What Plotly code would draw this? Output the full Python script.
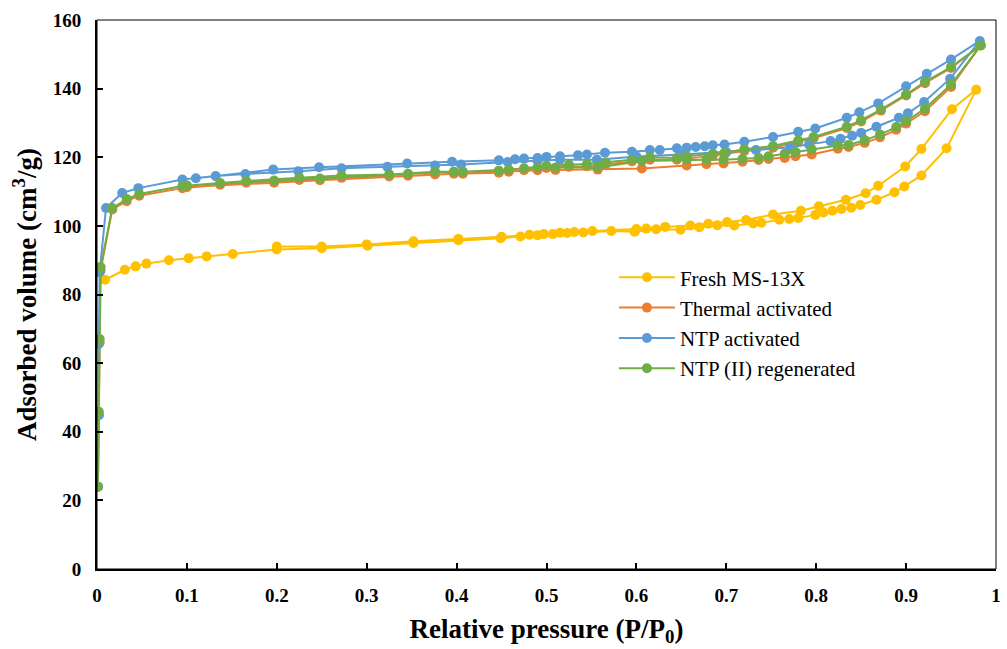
import plotly.graph_objects as go

# ---------------- data ----------------
fresh_p_ads = [0.009,0.031,0.043,0.055,0.080,0.102,0.122,0.151,0.200,0.250,0.301,0.352,0.402,0.449,0.471,0.490,0.507,0.523,0.541,0.572,0.598,0.622,0.649,0.670,0.690,0.709,0.730,0.739,0.759,0.770,0.780,0.799,0.808,0.818,0.828,0.839,0.849,0.867,0.887,0.898,0.917,0.945,0.978]
fresh_v_ads = [84.3,87.2,88.2,89.0,90.0,90.6,91.1,91.8,93.1,93.5,94.2,95.0,95.8,96.4,96.9,97.3,97.6,97.9,98.1,98.5,98.3,99.0,98.9,99.6,100.2,100.1,100.7,100.9,101.8,102.0,102.3,103.2,103.9,104.4,104.9,105.3,106.1,107.6,109.8,111.5,114.7,122.6,139.7]
fresh_p_des = [0.951,0.917,0.899,0.869,0.855,0.833,0.803,0.783,0.752,0.722,0.701,0.680,0.660,0.632,0.611,0.600,0.551,0.531,0.515,0.497,0.481,0.450,0.402,0.352,0.300,0.250,0.200]
fresh_v_des = [134.0,122.4,117.3,111.7,109.5,107.6,105.7,104.4,103.3,101.7,101.1,100.6,100.1,99.7,99.2,99.1,98.5,98.2,98.0,97.6,97.4,96.8,96.2,95.5,94.6,94.0,94.0]

thermal_p_ads = [0.001,0.002,0.003,0.004,0.017,0.033,0.047,0.095,0.137,0.166,0.225,0.272,0.325,0.376,0.407,0.458,0.490,0.510,0.557,0.606,0.656,0.678,0.697,0.718,0.736,0.747,0.765,0.777,0.795,0.824,0.836,0.854,0.871,0.889,0.900,0.921,0.950,0.983]
thermal_v_ads = [24.0,45.0,66.0,87.0,104.8,107.2,108.8,111.0,112.0,112.6,113.4,114.0,114.4,115.0,115.2,115.8,116.2,116.3,116.4,116.7,117.6,118.0,118.2,118.7,119.2,119.5,119.8,120.3,120.8,122.5,123.0,124.2,125.8,128.0,129.8,133.4,140.5,152.6]
thermal_p_des = [0.950,0.921,0.900,0.872,0.850,0.834,0.797,0.780,0.752,0.720,0.698,0.685,0.656,0.645,0.615,0.595,0.566,0.545,0.525,0.500,0.475,0.447,0.397,0.346,0.248,0.197,0.100]
thermal_v_des = [146.0,141.6,138.0,133.6,130.4,128.5,125.5,124.4,122.8,121.8,120.8,120.4,119.6,119.3,119.3,118.8,117.9,117.4,117.2,116.9,116.2,115.5,115.2,114.6,113.3,112.6,111.3]

ntp_p_ads = [0.001,0.002,0.002,0.003,0.010,0.028,0.046,0.095,0.132,0.165,0.224,0.272,0.323,0.376,0.405,0.457,0.490,0.515,0.556,0.600,0.650,0.700,0.733,0.771,0.792,0.816,0.827,0.840,0.850,0.867,0.892,0.902,0.920,0.949,0.982]
ntp_v_ads = [24.0,44.8,65.6,86.5,105.2,109.6,111.0,113.5,114.5,115.1,115.9,116.8,117.2,117.6,117.9,118.6,119.0,119.3,119.3,120.2,120.8,121.5,122.1,122.9,123.7,124.7,125.4,126.3,127.1,128.9,131.5,132.8,136.1,142.9,153.9]
ntp_p_des = [0.950,0.923,0.900,0.869,0.848,0.834,0.799,0.780,0.752,0.720,0.698,0.685,0.676,0.666,0.656,0.645,0.626,0.615,0.595,0.565,0.545,0.535,0.515,0.500,0.490,0.475,0.465,0.447,0.395,0.345,0.247,0.196,0.110]
ntp_v_des = [148.5,144.3,140.7,135.7,133.1,131.5,128.4,127.4,125.9,124.5,123.7,123.5,123.2,123.0,122.8,122.6,122.1,122.1,121.6,121.3,120.8,120.6,120.3,120.1,119.8,119.6,119.4,119.1,118.7,118.2,117.1,116.4,113.9]

regen_p_ads = [0.001,0.002,0.003,0.004,0.017,0.033,0.047,0.095,0.137,0.166,0.225,0.272,0.325,0.376,0.407,0.458,0.490,0.510,0.557,0.606,0.656,0.678,0.697,0.718,0.736,0.747,0.765,0.777,0.795,0.824,0.836,0.854,0.871,0.889,0.900,0.921,0.950,0.983]
regen_v_ads = [24.0,45.8,67.0,88.0,105.2,107.8,109.3,111.6,112.5,113.1,114.0,114.7,115.0,115.8,115.8,116.4,117.0,117.0,117.0,118.9,119.3,119.3,119.3,119.5,119.8,120.3,121.0,121.5,122.3,123.4,123.6,125.0,126.6,128.8,130.5,134.2,141.2,152.6]
regen_p_des = [0.950,0.921,0.900,0.872,0.850,0.834,0.797,0.780,0.752,0.720,0.698,0.685,0.656,0.645,0.615,0.595,0.566,0.545,0.525,0.500,0.475,0.447,0.397,0.346,0.248,0.197,0.100]
regen_v_des = [146.3,142.0,138.3,133.9,130.8,128.9,125.9,124.9,123.3,122.3,121.3,121.0,120.3,119.8,120.0,119.3,118.5,118.0,117.8,117.5,116.8,116.1,115.8,115.2,113.8,113.2,111.8]

series_names = ["Fresh MS-13X", "Thermal activated", "NTP activated", "NTP (II) regenerated"]
series_colors = ["#FFC000", "#ED7D31", "#5B9BD5", "#70AD47"]
x_ticks = [0, 0.1, 0.2, 0.3, 0.4, 0.5, 0.6, 0.7, 0.8, 0.9, 1]
x_tick_text = ["0", "0.1", "0.2", "0.3", "0.4", "0.5", "0.6", "0.7", "0.8", "0.9", "1"]
y_ticks = [0, 20, 40, 60, 80, 100, 120, 140, 160]

all_series = [
    (fresh_p_ads + fresh_p_des, fresh_v_ads + fresh_v_des),
    (thermal_p_ads + thermal_p_des, thermal_v_ads + thermal_v_des),
    (ntp_p_ads + ntp_p_des, ntp_v_ads + ntp_v_des),
    (regen_p_ads + regen_p_des, regen_v_ads + regen_v_des),
]

FONT = "Liberation Serif, Times New Roman, serif"

fig = go.Figure()
for (px, vy), name, col in zip(all_series, series_names, series_colors):
    fig.add_trace(go.Scatter(
        x=px, y=vy, name=name, mode="lines+markers",
        line=dict(color=col, width=2),
        marker=dict(color=col, size=10, line=dict(width=0)),
    ))

fig.update_layout(
    width=1007, height=649,
    margin=dict(l=97, r=6, t=20, b=80),
    paper_bgcolor="white", plot_bgcolor="white",
    font=dict(family=FONT, color="black"),
    showlegend=True,
    legend=dict(
        x=0.575, y=0.568, xanchor="left", yanchor="top",
        bgcolor="rgba(0,0,0,0)",
        font=dict(family=FONT, size=21, color="black"),
        tracegroupgap=0, itemwidth=56,
    ),
    shapes=[dict(type="rect", xref="paper", yref="paper", x0=0, y0=0, x1=1, y1=1,
                 line=dict(color="black", width=1), layer="above")],
)

fig.update_xaxes(
    range=[0, 1], tickvals=x_ticks, ticktext=x_tick_text,
    showgrid=False, zeroline=False,
    showline=True, linecolor="black", linewidth=2,
    ticks="inside", ticklen=6, tickwidth=1.5, tickcolor="black",
    tickfont=dict(family=FONT, size=19, color="black", weight="bold"),
    ticklabelstandoff=8,
    title=dict(text="<b>Relative pressure (P/P<sub>0</sub>)</b>",
               font=dict(family=FONT, size=27, color="black"), standoff=14),
)
fig.update_yaxes(
    range=[0, 160], tickvals=y_ticks,
    showgrid=False, zeroline=False,
    showline=True, linecolor="black", linewidth=2,
    ticks="inside", ticklen=6, tickwidth=1.5, tickcolor="black",
    tickfont=dict(family=FONT, size=19, color="black", weight="bold"),
    ticklabelstandoff=10,
    title=dict(text="<b>Adsorbed volume (cm<sup>3</sup>/g)</b>",
               font=dict(family=FONT, size=27, color="black"), standoff=8),
)

fig.write_html("out.html")
